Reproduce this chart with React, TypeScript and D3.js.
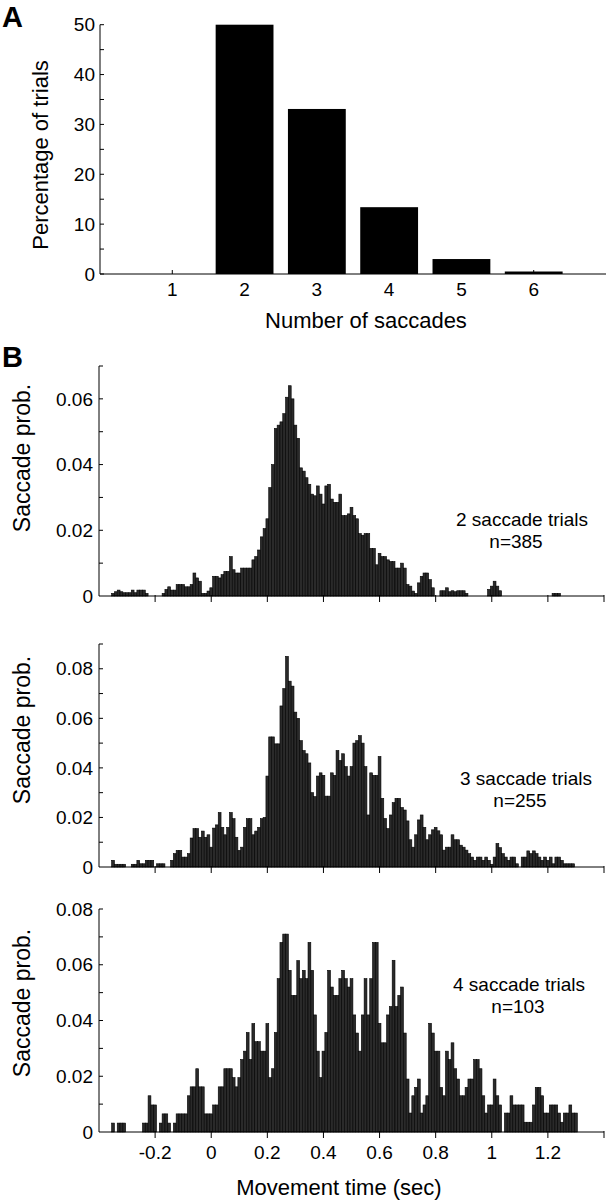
import React from 'react';
import * as d3 from 'd3';

// ---- panel A: distribution of saccade count per trial
const SACCADE_COUNTS = [1, 2, 3, 4, 5, 6];
const PCT_TRIALS = [0, 50, 33.1, 13.4, 3.0, 0.5];
const A_Y_TICKS = [0, 10, 20, 30, 40, 50];
const A_Y_MINOR = [5, 15, 25, 35, 45];

// ---- panel B: saccade-time histograms, 0.01 s bins, first bin centred on -0.35 s
const BIN_FIRST = -0.35;
const BIN_WIDTH = 0.01;

const TWO_SACC = [
  0.0008, 0.0013, 0.0018, 0.0013, 0.001, 0.001, 0.001, 0.0018, 0.001, 0.0018,
  0.0018, 0.0018, 0.0008, 0, 0, 0, 0, 0, 0.0008, 0.002,
  0.0028, 0.0018, 0.0018, 0.0035, 0.0035, 0.0035, 0.0028, 0.0028, 0.0035, 0.007,
  0.0055, 0.0045, 0.0008, 0.0008, 0.0015, 0.0025, 0.006, 0.006, 0.0055, 0.0065,
  0.0075, 0.0075, 0.012, 0.008, 0.007, 0.007, 0.0085, 0.0085, 0.0085, 0.0085,
  0.011, 0.012, 0.014, 0.018, 0.0205, 0.0235, 0.033, 0.04, 0.051, 0.052,
  0.053, 0.0555, 0.0605, 0.064, 0.06, 0.052, 0.048, 0.039, 0.038, 0.036,
  0.034, 0.031, 0.0305, 0.0335, 0.031, 0.028, 0.0335, 0.034, 0.0295, 0.0285,
  0.0285, 0.031, 0.0245, 0.0245, 0.025, 0.027, 0.0245, 0.0235, 0.019, 0.0185,
  0.019, 0.019, 0.0145, 0.0145, 0.0095, 0.013, 0.012, 0.012, 0.011, 0.0105,
  0.0105, 0.0085, 0.0085, 0.01, 0.0085, 0.0035, 0.003, 0.0015, 0.0008, 0.004,
  0.006, 0.007, 0.007, 0.005, 0.0025, 0, 0, 0.0016, 0.0016, 0.0025,
  0.0013, 0.0016, 0.0013, 0.0016, 0.0016, 0.0016, 0.0008, 0, 0, 0,
  0, 0, 0, 0, 0.002, 0.003, 0.0045, 0.003, 0.0016, 0,
  0, 0, 0, 0, 0, 0, 0, 0, 0, 0,
  0, 0, 0, 0, 0, 0, 0, 0.0008, 0.0008, 0.0008,
  0, 0, 0, 0, 0, 0,
];

const THREE_SACC = [
  0.0027, 0.0011, 0.0011, 0.0011, 0.0011, 0, 0, 0.0011, 0.0011, 0.0027,
  0.0013, 0.0013, 0.0027, 0.0027, 0.0027, 0, 0.0013, 0.0013, 0.0013, 0,
  0, 0.0027, 0.0054, 0.0067, 0.0067, 0.004, 0.004, 0.0054, 0.0117, 0.0155,
  0.0155, 0.012, 0.0145, 0.012, 0.013, 0.008, 0.0157, 0.017, 0.022, 0.016,
  0.013, 0.016, 0.022, 0.0195, 0.012, 0.0067, 0.008, 0.016, 0.0195, 0.0195,
  0.013, 0.0145, 0.016, 0.0195, 0.02, 0.0367, 0.0525, 0.0525, 0.0497, 0.0497,
  0.065, 0.072, 0.085, 0.075, 0.073, 0.0625, 0.06, 0.051, 0.047, 0.0457,
  0.042, 0.03, 0.0284, 0.0367, 0.038, 0.037, 0.0286, 0.0286, 0.038, 0.037,
  0.047, 0.043, 0.0457, 0.0405, 0.0367, 0.0405, 0.05, 0.051, 0.053, 0.05,
  0.0405, 0.021, 0.038, 0.037, 0.037, 0.0446, 0.0277, 0.0196, 0.0155, 0.021,
  0.026, 0.0277, 0.0277, 0.024, 0.023, 0.0186, 0.011, 0.008, 0.013, 0.019,
  0.021, 0.016, 0.011, 0.013, 0.015, 0.016, 0.0146, 0.013, 0.0068, 0.008,
  0.008, 0.013, 0.011, 0.011, 0.0088, 0.008, 0.0068, 0.0054, 0.004, 0.0027,
  0.004, 0.004, 0.0027, 0.004, 0.0027, 0.0011, 0.004, 0.0095, 0.0078, 0.0054,
  0.004, 0.0027, 0.004, 0.004, 0.0013, 0, 0.004, 0.004, 0.0065, 0.0054,
  0.0065, 0.0054, 0.004, 0.0027, 0.004, 0.0027, 0.004, 0.0013, 0.004, 0.004,
  0.0027, 0.0013, 0.0013, 0.0013, 0.0013, 0,
];

const FOUR_SACC = [
  0.0032, 0, 0.0032, 0.0032, 0.0032, 0, 0, 0, 0, 0,
  0, 0.0032, 0.0032, 0.013, 0.0097, 0.0097, 0, 0.0032, 0.0065, 0.0065,
  0.0032, 0, 0.0032, 0.0065, 0.0065, 0.0065, 0.0065, 0.013, 0.0162, 0.0162,
  0.0227, 0.0162, 0.0162, 0.0065, 0.0065, 0.0065, 0.0097, 0.0097, 0.0162, 0.0162,
  0.0227, 0.0227, 0.0227, 0.0195, 0.0162, 0.0195, 0.026, 0.029, 0.0357, 0.026,
  0.0389, 0.0324, 0.0324, 0.029, 0.029, 0.0389, 0.0195, 0.0227, 0.0357, 0.055,
  0.068, 0.071, 0.071, 0.058, 0.049, 0.049, 0.0615, 0.055, 0.058, 0.055,
  0.068, 0.058, 0.042, 0.029, 0.0195, 0.029, 0.0357, 0.058, 0.052, 0.049,
  0.049, 0.055, 0.058, 0.055, 0.052, 0.055, 0.042, 0.0355, 0.029, 0.042,
  0.055, 0.042, 0.055, 0.068, 0.068, 0.039, 0.032, 0.032, 0.042, 0.045,
  0.0616, 0.045, 0.049, 0.052, 0.0355, 0.019, 0.0068, 0.013, 0.016, 0.019,
  0.0068, 0.0097, 0.013, 0.039, 0.0355, 0.029, 0.029, 0.016, 0.013, 0.029,
  0.026, 0.032, 0.0227, 0.019, 0.013, 0.013, 0.016, 0.019, 0.019, 0.026,
  0.026, 0.0227, 0.013, 0.0068, 0.0097, 0.0097, 0.019, 0.013, 0.0097, 0,
  0.0068, 0.0068, 0.013, 0.0097, 0.0097, 0.0097, 0.0097, 0.0035, 0.0035, 0.0035,
  0.0097, 0.016, 0.016, 0.013, 0.0068, 0.0068, 0.0097, 0.0097, 0.0097, 0.0068,
  0.0035, 0.0068, 0.0068, 0.0097, 0.0068, 0.0068,
];

const B_X_TICKS = [-0.2, 0, 0.2, 0.4, 0.6, 0.8, 1, 1.2, 1.4];
const B_X_LABELS = [-0.2, 0, 0.2, 0.4, 0.6, 0.8, 1, 1.2];

const HIST_NAMES = ['2 saccade trials', '3 saccade trials', '4 saccade trials'];
const HIST_N = ['n=385', 'n=255', 'n=103'];
const HIST_YMAX = [0.07, 0.09, 0.08];

const FONT = '"Liberation Sans", Arial, Helvetica, sans-serif';
const W = 606;
const H = 1200;

// layout for the three histogram panels
const B_LAYOUT = [
  { top: 366, bottom: 596, labelY: 458, note: [522, 526, 516, 548] },
  { top: 644, bottom: 867, labelY: 730, note: [526, 785, 520, 807] },
  { top: 909, bottom: 1132, labelY: 1003, note: [519, 991, 518, 1013] },
];
const HISTS = [TWO_SACC, THREE_SACC, FOUR_SACC];

const fmt = (v: number) => String(+v.toFixed(2));

function PanelA() {
  const x = d3.scaleLinear().domain([0, 7]).range([100, 606]);
  const y = d3.scaleLinear().domain([0, 50]).range([274, 24.7]);
  const bw = x(0.8) - x(0);
  return (
    <g>
      <text x={2} y={27} fontSize={29} fontWeight="bold" fontFamily={FONT}>A</text>
      {PCT_TRIALS.map((v, i) => (
        v > 0 ? <rect key={i} x={x(SACCADE_COUNTS[i]) - bw / 2} y={y(v)} width={bw}
          height={y(0) - y(v)} fill="#000" /> : null
      ))}
      <line x1={x(0)} x2={x(0)} y1={y(0)} y2={y(50)} stroke="#000" />
      <line x1={x(0)} x2={x(7)} y1={y(0)} y2={y(0)} stroke="#000" />
      {[...A_Y_TICKS, ...A_Y_MINOR].map(t => (
        <line key={'t' + t} x1={x(0)} x2={x(0) + 4} y1={y(t)} y2={y(t)} stroke="#000" />
      ))}
      {A_Y_TICKS.map(t => (
        <text key={'l' + t} x={x(0) - 5} y={y(t)} dy="0.35em" textAnchor="end"
          fontSize={19} fontFamily={FONT}>{t}</text>
      ))}
      {SACCADE_COUNTS.map(c => (
        <g key={'c' + c}>
          <line x1={x(c)} x2={x(c)} y1={y(0)} y2={y(0) - 4} stroke="#000" />
          <text x={x(c)} y={296} textAnchor="middle" fontSize={19} fontFamily={FONT}>{c}</text>
        </g>
      ))}
      <text x={366} y={328} textAnchor="middle" fontSize={22} fontFamily={FONT}>Number of saccades</text>
      <text transform="translate(40,155) rotate(-90)" dy="0.35em" textAnchor="middle"
        fontSize={22} fontFamily={FONT}>Percentage of trials</text>
    </g>
  );
}

function Histogram({ idx }: { idx: number }) {
  const L = B_LAYOUT[idx];
  const data = HISTS[idx];
  const ymax = HIST_YMAX[idx];
  const x = d3.scaleLinear().domain([-0.4, 1.4]).range([99, 604]);
  const y = d3.scaleLinear().domain([0, ymax]).range([L.bottom, L.top]);
  const majors = d3.range(0, ymax + 1e-9, 0.02);
  const minors = d3.range(0.01, ymax + 1e-9, 0.01);
  const last = idx === HISTS.length - 1;
  return (
    <g>
      {data.map((v, i) => {
        if (v <= 0) return null;
        const c = BIN_FIRST + i * BIN_WIDTH;
        const x0 = x(c - BIN_WIDTH / 2);
        const x1 = x(c + BIN_WIDTH / 2);
        return <rect key={i} x={x0} y={y(v)} width={x1 - x0} height={y(0) - y(v)}
          fill="#2a2a2a" stroke="#000" strokeWidth={0.6} />;
      })}
      <line x1={x(-0.4)} x2={x(-0.4)} y1={y(0)} y2={y(ymax)} stroke="#000" />
      <line x1={x(-0.4)} x2={x(1.4)} y1={y(0)} y2={y(0)} stroke="#000" />
      {minors.map(t => (
        <line key={'m' + t} x1={x(-0.4)} x2={x(-0.4) + 4} y1={y(t)} y2={y(t)} stroke="#000" />
      ))}
      {majors.map(t => (
        <text key={'y' + t} x={93} y={y(t)} dy="0.35em" textAnchor="end"
          fontSize={19} fontFamily={FONT}>{fmt(t)}</text>
      ))}
      {B_X_TICKS.map(t => (
        <line key={'x' + t} x1={x(t)} x2={x(t)} y1={y(0) - 1} y2={y(0) + 6} stroke="#000" />
      ))}
      {last && B_X_LABELS.map(t => (
        <text key={'xl' + t} x={x(t)} y={1159} textAnchor="middle"
          fontSize={19} fontFamily={FONT}>{fmt(t)}</text>
      ))}
      <text transform={`translate(22,${L.labelY}) rotate(-90)`} dy="0.35em" textAnchor="middle"
        fontSize={23} fontFamily={FONT}>Saccade prob.</text>
      <text x={L.note[0]} y={L.note[1]} textAnchor="middle" fontSize={19} fontFamily={FONT}>{HIST_NAMES[idx]}</text>
      <text x={L.note[2]} y={L.note[3]} textAnchor="middle" fontSize={19} fontFamily={FONT}>{HIST_N[idx]}</text>
    </g>
  );
}

export default function App() {
  return (
    <svg width={W} height={H} viewBox={`0 0 ${W} ${H}`}
      style={{ position: 'absolute', left: 0, top: 0, background: '#fff' }}>
      <PanelA />
      <text x={2} y={367} fontSize={29} fontWeight="bold" fontFamily={FONT}>B</text>
      <Histogram idx={0} />
      <Histogram idx={1} />
      <Histogram idx={2} />
      <text x={339} y={1195} textAnchor="middle" fontSize={22} fontFamily={FONT}>Movement time (sec)</text>
    </svg>
  );
}
